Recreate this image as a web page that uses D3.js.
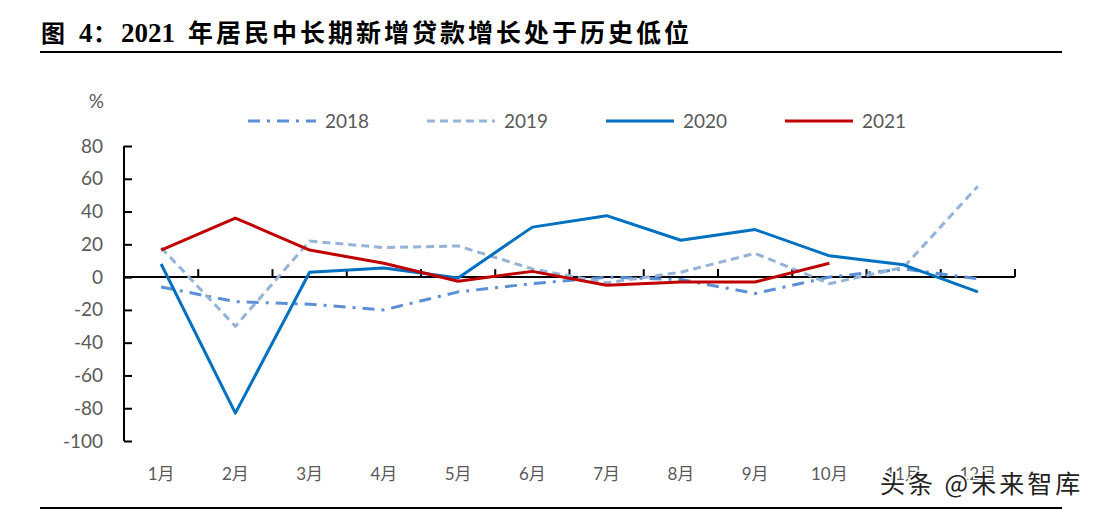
<!DOCTYPE html>
<html><head><meta charset="utf-8">
<script src="https://cdn.jsdelivr.net/npm/d3@7/dist/d3.min.js"></script>
<style>
html,body{margin:0;padding:0;background:#fff;}
svg{display:block;}
</style></head>
<body>
<svg id="chart" width="1103" height="514"></svg>
<script>
const months = ["1月","2月","3月","4月","5月","6月","7月","8月","9月","10月","11月","12月"];
const yTicks = [80,60,40,20,0,-20,-40,-60,-80,-100];
const v2018 = [-6,-15,-16.5,-20,-9,-4,0,-1.5,-10,0,5,-1];
const v2019 = [18,-30,22,18,19,5,-3.5,3,14.5,-4,6,55.5];
const v2020 = [8,-83,3,5.5,-0.5,30.5,37.5,22.5,29,13,7.5,-9];
const v2021 = [16.5,36,16.5,8.5,-2.5,3.5,-5,-3,-3,8.5];
const seriesNames = ["2018","2019","2020","2021"];
const colors = ["#5B8FD6","#95B3D7","#0070C0","#C00000"];
const dashes = ["12,7,3,7","8,5",null,null];

const svg = d3.select("#chart");
const tickFont = "Lato, 'Noto Sans CJK SC', sans-serif";
const textColor = "#595959";

// title
const title = svg.append("text").attr("y",42).attr("font-weight","bold").attr("fill","#000");
title.append("tspan").attr("x",41).attr("font-family","'Noto Sans CJK SC',sans-serif").attr("font-size",24).text("图");
title.append("tspan").attr("x",79).attr("font-family","'Liberation Serif',serif").attr("font-size",27).text("4");
title.append("tspan").attr("x",93).attr("font-family","'Noto Sans CJK SC',sans-serif").attr("font-size",24).text("：");
title.append("tspan").attr("x",121).attr("font-family","'Liberation Serif',serif").attr("font-size",27).text("2021");
title.append("tspan").attr("x",188).attr("font-family","'Noto Sans CJK SC',sans-serif").attr("font-size",25)
  .attr("letter-spacing",3).text("年居民中长期新增贷款增长处于历史低位");

svg.append("line").attr("x1",40).attr("x2",1062).attr("y1",52).attr("y2",52)
  .attr("stroke","#000").attr("stroke-width",2);
svg.append("line").attr("x1",40).attr("x2",1062).attr("y1",508).attr("y2",508)
  .attr("stroke","#000").attr("stroke-width",2);

const x = d3.scaleBand().domain(months).range([124,1015]);
const y = d3.scaleLinear().domain([-100,80]).range([441,146]);

// y axis
const yAxis = d3.axisLeft(y).tickValues(yTicks).tickSize(-8).tickPadding(20)
  .tickFormat(d=>String(d));
const gy = svg.append("g").attr("transform","translate(124,0)").call(yAxis);
gy.select(".domain").attr("stroke","#000").attr("stroke-width",2).attr("d","M0,146V441");
gy.selectAll(".tick line").attr("stroke","#000").attr("stroke-width",2);
gy.selectAll(".tick text").attr("font-family",tickFont).attr("font-size",19).attr("fill",textColor).attr("x",-21);

svg.append("text").attr("x",104).attr("y",108).attr("text-anchor","end")
  .attr("font-family",tickFont).attr("font-size",19).attr("fill",textColor).text("%");

// x axis at zero
const gx = svg.append("g").attr("transform",`translate(0,${y(0)})`);
gx.append("line").attr("x1",124).attr("x2",1015).attr("stroke","#000").attr("stroke-width",2);
months.forEach((m,i)=>{
  const bx = x(m)+x.bandwidth();
  gx.append("line").attr("x1",bx).attr("x2",bx).attr("y1",0).attr("y2",-8).attr("stroke","#000").attr("stroke-width",2);
});
svg.append("g").selectAll("text").data(months).join("text")
  .attr("x",d=>x(d)+x.bandwidth()/2).attr("y",480).attr("text-anchor","middle")
  .attr("font-family",tickFont).attr("font-size",17).attr("fill",textColor).text(d=>d);

// lines
const all = [v2018,v2019,v2020,v2021];
const line = d3.line().x((d,i)=>x(months[i])+x.bandwidth()/2).y(d=>y(d));
all.forEach((vals,k)=>{
  const p = svg.append("path").datum(vals).attr("d",line).attr("fill","none")
    .attr("stroke",colors[k]).attr("stroke-width",3).attr("stroke-linejoin","round");
  if(dashes[k]) p.attr("stroke-dasharray",dashes[k]);
});

// legend
const legX = [248,427,606,785];
seriesNames.forEach((n,k)=>{
  const g = svg.append("g");
  const l = g.append("line").attr("x1",legX[k]).attr("x2",legX[k]+68).attr("y1",121).attr("y2",121)
    .attr("stroke",colors[k]).attr("stroke-width",3);
  if(dashes[k]) l.attr("stroke-dasharray",dashes[k]);
  g.append("text").attr("x",legX[k]+77).attr("y",128).attr("font-family",tickFont)
    .attr("font-size",19).attr("fill",textColor).text(n);
});

// watermark
svg.append("text").attr("x",880).attr("y",493)
  .attr("font-family","'Noto Sans CJK SC',sans-serif").attr("font-size",25).attr("letter-spacing",3)
  .attr("fill","#222").attr("stroke","#fff").attr("stroke-width",3).attr("paint-order","stroke")
  .text("头条 @未来智库");
</script>
</body></html>
